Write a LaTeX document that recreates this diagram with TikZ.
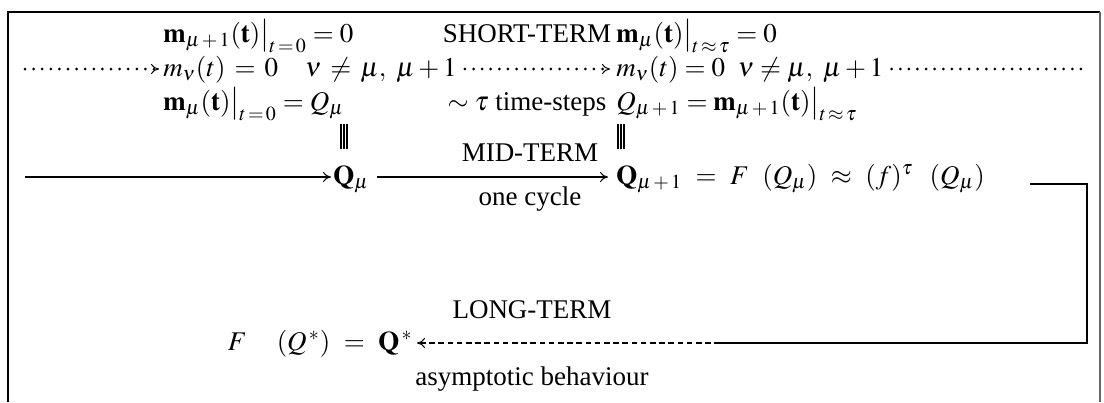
\documentclass[tikz,border=0pt]{standalone}
\usepackage{mathptmx}
\usepackage{fontspec}
\setmainfont{Liberation Serif}
\usetikzlibrary{arrows.meta}
\newcommand{\widerel}{\thickmuskip=9mu plus 3mu\relax}
\begin{document}
\begin{tikzpicture}[x=0.5pt,y=-0.5pt,
  font=\fontsize{13.5}{16}\selectfont,
  txt/.style={inner sep=0pt, anchor=base west},
  lbl/.style={inner sep=0pt, anchor=base},
  tip/.style={-{To[length=4pt,width=5pt,line width=0.5pt]}},
  dotline/.style={line width=1.5pt, line cap=round, dash pattern=on 0pt off 4.3pt},
  dotarrow/.style={dotline, tip},
  solidarrow/.style={line width=0.6pt, tip},
  longarrow/.style={line width=0.7pt, dash pattern=on 2.8pt off 1.8pt, tip},
  frameline/.style={line width=1.2pt},
  eqbar/.style={line width=0.6pt}]
\useasboundingbox (0,0) rectangle (1104,402);
% frame
\draw[frameline] (8,402) -- (8,12) -- (1100,12);
\draw[line width=0.6pt, black!60] (1100,12) -- (1100,402);
% left column
\node[txt] (a1) at (163,42) {$\mathbf{m}_{\mu\,+\,1}\mathbf{(t)}\bigr|_{t\,=\,0}=0$};
\node[txt] (a2) at (163,76) {$\thickmuskip=6mu m_\nu(t)=0\quad\nu\neq\mu,\ \mu+1$};
\node[txt] (a3) at (163,110) {$\mathbf{m}_{\mu}\mathbf{(t)}\bigr|_{t\,=\,0}=Q_\mu$};
% middle labels
\node[lbl] (st) at (527,42) {SHORT-TERM};
\node[lbl] (ts) at (527,110) {$\sim\tau$ time-steps};
\node[lbl] (mt) at (530,161) {MID-TERM};
\node[lbl] (oc) at (530,205) {one cycle};
\node[lbl] (lt) at (532,318) {LONG-TERM};
\node[lbl] (ab) at (532,385) {asymptotic behaviour};
% right column
\node[txt] (b1) at (616,42) {$\mathbf{m}_{\mu}\mathbf{(t)}\bigr|_{t\,\approx\,\tau}=0$};
\node[txt] (b2) at (616,76) {$m_\nu(t)=0\ \;\nu\neq\mu,\ \mu+1$};
\node[txt] (b3) at (616,110) {$Q_{\mu\,+\,1}=\mathbf{m}_{\mu\,+\,1}\mathbf{(t)}\bigr|_{t\,\approx\,\tau}$};
% mid row
\node[txt] (qm) at (333,184) {$\mathbf{Q}_\mu$};
\node[txt] (b5) at (616,184) {$\widerel\mathbf{Q}_{\mu\,+\,1}=F\;(Q_\mu)\approx(f)^{\tau}\;\,(Q_\mu)$};
% fixed point
\node[anchor=base east, inner sep=0pt] (fq) at (413,350) {$\widerel F\;\;\,(Q^{\,*})=\mathbf{Q}^{\,*}$};
% vertical identity bars
\foreach \dx in {-3,0,3} {
  \draw[eqbar] (344+\dx,124) -- (344+\dx,149);
  \draw[eqbar] (621+\dx,124) -- (621+\dx,149);
}
% connectors
\coordinate (s2) at (25,69);
\coordinate (e2) at (1088,69);
\draw[dotarrow] (s2) -- ([xshift=-2pt,yshift=3.5pt]a2.base west);
\draw[dotarrow] ([xshift=4pt,yshift=3.5pt]a2.base east) -- ([xshift=-3pt,yshift=3.5pt]b2.base west);
\draw[dotline] ([xshift=4pt,yshift=3.5pt]b2.base east) -- (e2);
\coordinate (s5) at (25,177);
\draw[solidarrow] (s5) -- ([xshift=-1pt,yshift=3.5pt]qm.base west);
\draw[solidarrow] ([xshift=4pt,yshift=3.5pt]qm.base east) -- ([xshift=-4pt,yshift=3.5pt]b5.base west);
\coordinate (br1) at (1030,184);
\coordinate (br2) at (1087,184);
\coordinate (br3) at (1087,343);
\coordinate (br4) at (720,343);
\draw[line width=0.9pt] (br1) -- (br2) -- (br3) -- (br4);
\draw[longarrow] (br4) -- ([xshift=2pt,yshift=3.5pt]fq.base east);
\end{tikzpicture}
\end{document}
